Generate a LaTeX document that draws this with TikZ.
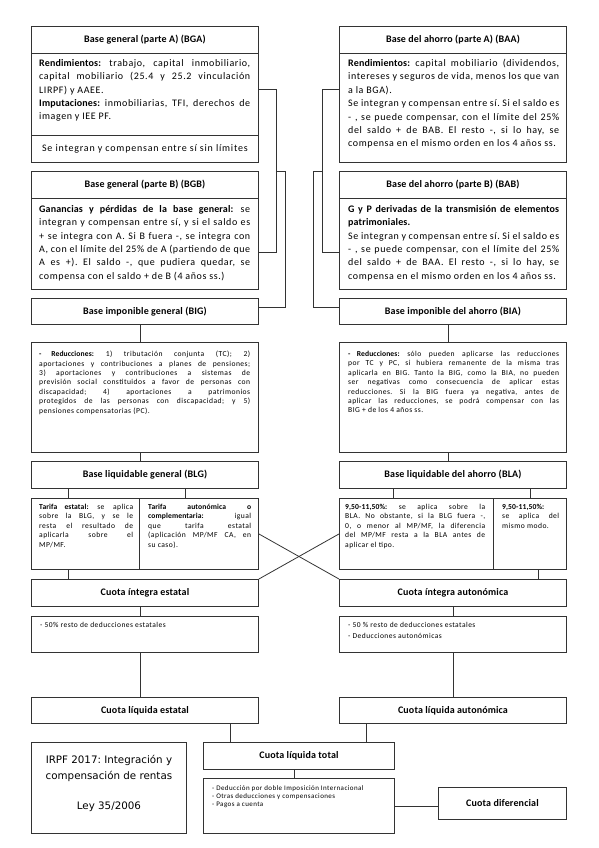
\documentclass[tikz,border=0pt]{standalone}
\usepackage{fontspec}
\setmainfont{Carlito}[LetterSpace=6, BoldFeatures={LetterSpace=1.5}]
\newfontfamily\titlefont{Carlito}[LetterSpace=1.5]
\newfontfamily\irpffont{DejaVu Sans}
\usetikzlibrary{calc}
\frenchspacing
\hyphenpenalty=10000
\tikzset{
  box/.style={draw=black!80, line width=0.9pt, rectangle, inner sep=0pt, anchor=north west, minimum width=227pt},
  ttl/.style={font=\titlefont\fontsize{10}{12}\selectfont\bfseries},
  body/.style={anchor=north west, inner sep=0pt, align=justify, font=\fontsize{10}{13.4}\selectfont},
  small/.style={anchor=north west, inner sep=0pt, align=justify, font=\fontsize{7.6}{9.4}\selectfont},
  tiny/.style={anchor=north west, inner sep=0pt, align=left, font=\fontsize{7.5}{11}\selectfont},
  micro/.style={anchor=north west, inner sep=0pt, align=left, font=\fontsize{7}{9}\selectfont},
  conn/.style={draw=black!80, line width=0.8pt},
}
\begin{document}
\begin{tikzpicture}[x=1pt,y=-1pt]
\useasboundingbox (0,0) rectangle (599,848);

% ---------- Base general A
\node[box, ttl, minimum height=27pt] (bgaT) at (31,26) {Base general (parte A) (BGA)};
\node[box, minimum height=82pt] (bgaB) at (31,53) {};
\node[body, text width=211pt] (bgaBt) at ($(bgaB.north west)+(8,6)$)
 {\textbf{Rendimientos:} trabajo, capital inmobiliario,\linebreak capital mobiliario (25.4 y 25.2 vinculación\linebreak LIRPF) y AAEE.\par
  \textbf{Imputaciones:} inmobiliarias, TFI, derechos de\linebreak imagen y IEE PF.};
\node[box, font=\fontsize{10}{12}\addfontfeature{LetterSpace=8}, minimum height=27pt] (bgaC) at (31,135) {Se integran y compensan entre sí sin límites};

% ---------- Base del ahorro A
\node[box, ttl, minimum height=27pt] (baaT) at (339,26) {Base del ahorro (parte A) (BAA)};
\node[box, minimum height=109pt] (baaB) at (339,53) {};
\node[body, text width=211pt] (baaBt) at ($(baaB.north west)+(9,6)$)
 {\textbf{Rendimientos:} capital mobiliario (dividendos,\linebreak intereses y seguros de vida, menos los que van\linebreak a la BGA).\par
  Se integran y compensan entre sí. Si el saldo es\linebreak - , se puede compensar, con el límite del 25\%\linebreak del saldo + de BAB. El resto -, si lo hay, se\linebreak compensa en el mismo orden en los 4 años ss.};

% ---------- Base general B
\node[box, ttl, minimum height=27pt] (bgbT) at (31,171) {Base general (parte B) (BGB)};
\node[box, minimum height=91pt] (bgbB) at (31,198) {};
\node[body, text width=211pt] (bgbBt) at ($(bgbB.north west)+(8,7)$)
 {\textbf{Ganancias y pérdidas de la base general:} se\linebreak integran y compensan entre sí, y si el saldo es\linebreak + se integra con A. Si B fuera -, se integra con\linebreak A, con el límite del 25\% de A (partiendo de que\linebreak A es +). El saldo -, que pudiera quedar, se\linebreak compensa con el saldo + de B (4 años ss.)};

% ---------- Base del ahorro B
\node[box, ttl, minimum height=27pt] (babT) at (339,171) {Base del ahorro (parte B) (BAB)};
\node[box, minimum height=91pt] (babB) at (339,198) {};
\node[body, text width=211pt] (babBt) at ($(babB.north west)+(9,7)$)
 {\textbf{G y P derivadas de la transmisión de elementos\linebreak patrimoniales.}\par
  Se integran y compensan entre sí. Si el saldo es\linebreak - , se puede compensar, con el límite del 25\%\linebreak del saldo + de BAA. El resto -, si lo hay, se\linebreak compensa en el mismo orden en los 4 años ss.};

% ---------- Bases imponibles
\node[box, ttl, minimum height=26pt] (big) at (31,298) {Base imponible general (BIG)};
\node[box, ttl, minimum height=26pt] (bia) at (339,298) {Base imponible del ahorro (BIA)};

% ---------- Reducciones
\node[box, minimum height=110pt] (redL) at (31,342) {};
\node[small, text width=211pt] (redLt) at ($(redL.north west)+(8,9)$)
 {\textbf{- Reducciones:} 1) tributación conjunta (TC); 2)\linebreak aportaciones y contribuciones a planes de pensiones;\linebreak 3) aportaciones y contribuciones a sistemas de\linebreak previsión social constituidos a favor de personas con\linebreak discapacidad; 4) aportaciones a patrimonios\linebreak protegidos de las personas con discapacidad; y 5)\linebreak pensiones compensatorias (PC).};
\node[box, minimum height=110pt] (redR) at (339,342) {};
\node[small, text width=211pt] (redRt) at ($(redR.north west)+(9,9)$)
 {\textbf{- Reducciones:} sólo pueden aplicarse las reducciones\linebreak por TC y PC, si hubiera remanente de la misma tras\linebreak aplicarla en BIG. Tanto la BIG, como la BIA, no pueden\linebreak ser negativas como consecuencia de aplicar estas\linebreak reducciones. Si la BIG fuera ya negativa, antes de\linebreak aplicar las reducciones, se podrá compensar con las\linebreak BIG + de los 4 años ss.};

% ---------- Bases liquidables
\node[box, ttl, minimum height=27pt] (blg) at (31,461) {Base liquidable general (BLG)};
\node[box, ttl, minimum height=27pt] (bla) at (339,461) {Base liquidable del ahorro (BLA)};

% ---------- Tarifas
\node[box, minimum width=108pt, minimum height=71pt] (tarE) at (31,498) {};
\node[small, text width=94pt] (tarEt) at ($(tarE.north west)+(8,6)$)
 {\textbf{Tarifa estatal:} se aplica\linebreak sobre la BLG, y se le\linebreak resta el resultado de\linebreak aplicarla sobre el\linebreak MP/MF.};
\node[box, minimum width=119pt, minimum height=71pt] (tarA) at (139,498) {};
\node[small, text width=103pt] (tarAt) at ($(tarA.north west)+(9,6)$)
 {\textbf{Tarifa autonómica o\linebreak complementaria:} igual\linebreak que tarifa estatal\linebreak (aplicación MP/MF CA, en\linebreak su caso).};
\node[box, minimum width=154pt, minimum height=71pt] (tB1) at (339,498) {};
\node[small, text width=140pt] (tB1t) at ($(tB1.north west)+(6,6)$)
 {\textbf{9,50-11,50\%:} se aplica sobre la\linebreak BLA. No obstante, si la BLG fuera -,\linebreak 0, o menor al MP/MF, la diferencia\linebreak del MP/MF resta a la BLA antes de\linebreak aplicar el tipo.};
\node[box, minimum width=73pt, minimum height=71pt] (tB2) at (493,498) {};
\node[small, text width=57pt] (tB2t) at ($(tB2.north west)+(9,6)$)
 {\textbf{9,50-11,50\%:}\linebreak se aplica del\linebreak mismo modo.};

% ---------- Cuotas íntegras
\node[box, ttl, minimum height=27pt] (cie) at (31,579) {Cuota íntegra estatal};
\node[box, ttl, minimum height=27pt] (cia) at (339,579) {Cuota íntegra autonómica};

% ---------- Deducciones
\node[box, minimum height=36pt] (dedE) at (31,616) {};
\node[tiny] (dedEt) at ($(dedE.north west)+(9,6)$) {- 50\% resto de deducciones estatales};
\node[box, minimum height=36pt] (dedA) at (339,616) {};
\node[tiny] (dedAt) at ($(dedA.north west)+(9,6)$) {- 50 \% resto de deducciones estatales\\- Deducciones autonómicas};

% ---------- Cuotas líquidas
\node[box, ttl, minimum height=26pt] (cle) at (31,697) {Cuota líquida estatal};
\node[box, ttl, minimum height=26pt] (cla) at (339,697) {Cuota líquida autonómica};

% ---------- Bottom
\node[box, minimum width=155pt, minimum height=91pt] (irpf) at (31,742) {};
\node[align=center, inner sep=0pt, font=\irpffont\fontsize{10.3}{16}\selectfont] (irpft) at ([yshift=5pt]irpf.center)
 {IRPF 2017: Integración y\\compensación de rentas\\[14pt]Ley 35/2006};
\node[box, ttl, minimum width=191pt, minimum height=27pt] (clt) at (203,742) {Cuota líquida total};
\node[box, minimum width=191pt, minimum height=55pt] (dedT) at (203,778) {};
\node[micro] (dedTt) at ($(dedT.north west)+(9,7)$)
 {- Deducción por doble Imposición Internacional\\[-0.5pt]- Otras deducciones y compensaciones\\[-1.5pt]- Pagos a cuenta};
\node[box, ttl, minimum width=128pt, minimum height=32pt] (cdif) at (438,787) {Cuota diferencial};

% ---------- Connectors
\draw[conn] ([yshift=5pt]bgaB.east) -- ++(17,0) coordinate (jL) |- ([yshift=-8.5pt]bgbB.east);
\draw[conn] (jL |- bgbT.north) -- ++(9,0) |- ([yshift=4pt]big.east);
\draw[conn] ([yshift=18.5pt]baaB.west) -- ++(-17,0) coordinate (jR) |- ([yshift=-8.5pt]babB.west);
\draw[conn] (jR |- babT.north) -- ++(-9,0) |- ([yshift=4pt]bia.west);

\draw[conn] ([xshift=-4.5pt]big.south) -- ([xshift=-4.5pt]big.south |- redL.north);
\draw[conn] ([xshift=-4.5pt]bia.south) -- ([xshift=-4.5pt]bia.south |- redR.north);
\draw[conn] ([xshift=-4.5pt]redL.south) -- ([xshift=-4.5pt]redL.south |- blg.north);
\draw[conn] ([xshift=-4.5pt]redR.south) -- ([xshift=-4.5pt]redR.south |- bla.north);

\draw[conn] ([xshift=-17pt]tarE.north) -- ([xshift=-17pt]tarE.north |- blg.south);
\draw[conn] ([xshift=-13.5pt]tarA.north) -- ([xshift=-13.5pt]tarA.north |- blg.south);
\draw[conn] ([xshift=-23pt]tB1.north) -- ([xshift=-23pt]tB1.north |- bla.south);
\draw[conn] (tB2.north) -- (tB2.north |- bla.south);

\draw[conn] ([xshift=-17pt]tarE.south) -- ([xshift=-17pt]tarE.south |- cie.north);
\draw[conn] ([xshift=8.5pt]tB2.south) -- ([xshift=8.5pt]tB2.south |- cia.north);
\draw[conn] (tarA.east) -- (cia.north west);
\draw[conn] (tB1.west) -- (cie.north east);

\draw[conn] ([xshift=-4.5pt]cie.south) -- ([xshift=-4.5pt]cie.south |- dedE.north);
\draw[conn] ([xshift=-4.5pt]dedE.south) -- ([xshift=-4.5pt]dedE.south |- cle.north);
\draw[conn] (cia.south) -- (cia.south |- dedA.north);
\draw[conn] (dedA.south) -- (dedA.south |- cla.north);

\draw[conn] ([xshift=85.5pt]cle.south) -- ([xshift=85.5pt]cle.south |- clt.north);
\draw[conn] ([xshift=-86.5pt]cla.south) -- ([xshift=-86.5pt]cla.south |- clt.north);
\draw[conn] ([xshift=-4.5pt]clt.south) -- ([xshift=-4.5pt]clt.south |- dedT.north);
\draw[conn] (dedT.east) -- (dedT.east -| cdif.west);
\end{tikzpicture}
\end{document}
